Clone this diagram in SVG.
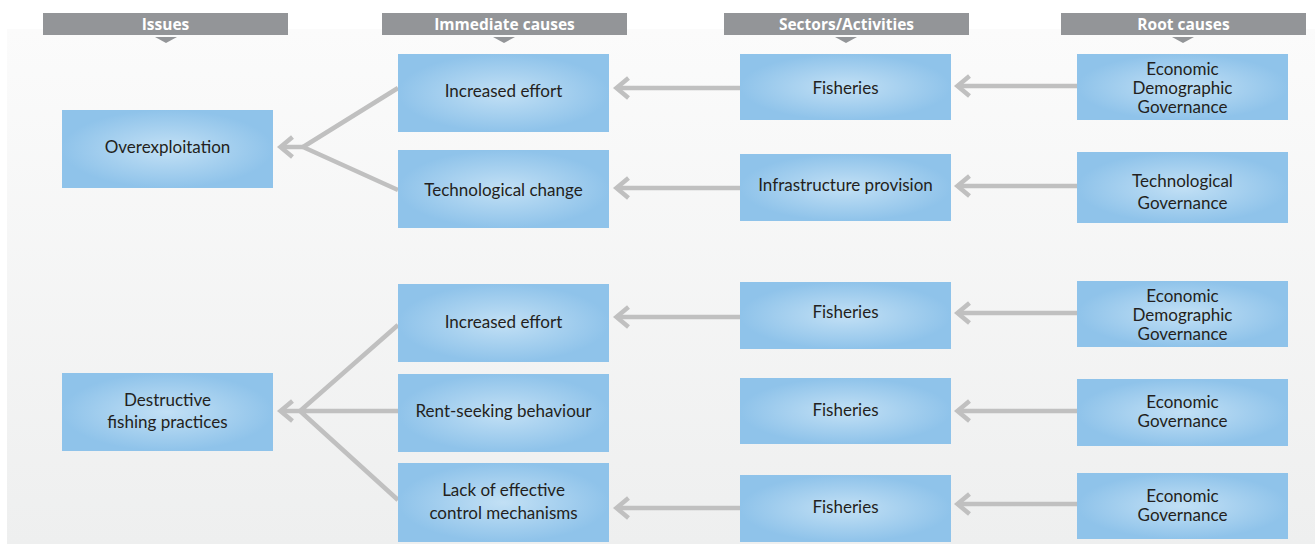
<svg xmlns="http://www.w3.org/2000/svg" width="1315" height="544" viewBox="0 0 1315 544">
<defs>
<linearGradient id="bg" x1="0" y1="0" x2="0" y2="1">
<stop offset="0" stop-color="#fbfbfb"/>
<stop offset="1" stop-color="#eeefef"/>
</linearGradient>
<radialGradient id="nodeFill" cx="0.5" cy="0.5" r="0.5">
<stop offset="0" stop-color="#c2e0f5"/>
<stop offset="1" stop-color="#8fc3ea"/>
</radialGradient>
<marker id="chev" markerUnits="userSpaceOnUse" viewBox="-18 -14 24 28" markerWidth="24" markerHeight="28" refX="0" refY="0" orient="auto">
<path d="M-12,-10 L0,0 L-12,10" fill="none" stroke="#c0c0c0" stroke-width="4.5"/>
</marker>
</defs>
<style>
.hdr{fill:#939598}
.hdrt{font-family:"Open Sans","Liberation Sans",sans-serif;font-weight:bold;font-size:15.5px;fill:#ffffff;text-anchor:middle}
.node rect{fill:url(#nodeFill)}
.node text{font-family:Lato,"Liberation Sans",sans-serif;font-size:17px;fill:#231f20;text-anchor:middle}
.conn{fill:none;stroke:#c0c0c0;stroke-width:4.5}
.arr{marker-end:url(#chev)}
</style>
<rect x="0" y="0" width="1315" height="544" fill="#ffffff"/>
<rect x="7" y="29" width="1308" height="515" fill="url(#bg)"/>

<g id="headers">
<rect class="hdr" x="43" y="13" width="245" height="22"/>
<polygon class="hdr" points="155,37 177,37 166,43"/>
<text class="hdrt" x="165.5" y="29.5">Issues</text>
<rect class="hdr" x="382" y="13" width="245" height="22"/>
<polygon class="hdr" points="493,37 515,37 504,43"/>
<text class="hdrt" x="504.5" y="29.5">Immediate causes</text>
<rect class="hdr" x="724" y="13" width="245" height="22"/>
<polygon class="hdr" points="835,37 857,37 846,43"/>
<text class="hdrt" x="846.5" y="29.5">Sectors/Activities</text>
<rect class="hdr" x="1061" y="13" width="245" height="22"/>
<polygon class="hdr" points="1172,37 1194,37 1183,43"/>
<text class="hdrt" x="1183.5" y="29.5">Root causes</text>
</g>

<g id="connectors">
<path class="conn" d="M398,88 L303,147 L398,190"/>
<path class="conn arr" d="M303,147 L280.5,147"/>
<path class="conn" d="M398,325 L300,411 L398,500 M398,411 L300,411"/>
<path class="conn arr" d="M300,411 L280.5,411"/>
<path class="conn arr" d="M740,88 L616.5,88"/>
<path class="conn arr" d="M740,188 L616.5,188"/>
<path class="conn arr" d="M740,317 L616.5,317"/>
<path class="conn arr" d="M740,508 L616.5,508"/>
<path class="conn arr" d="M1077,86 L957.5,86"/>
<path class="conn arr" d="M1077,186 L957.5,186"/>
<path class="conn arr" d="M1077,313 L957.5,313"/>
<path class="conn arr" d="M1077,411 L957.5,411"/>
<path class="conn arr" d="M1077,504 L957.5,504"/>
</g>

<g id="n-overexploitation" class="node"><rect x="62" y="110" width="211" height="78"/><text x="167.5" y="153">Overexploitation</text></g>
<g id="n-destructive" class="node"><rect x="62" y="373" width="211" height="78"/><text x="167.5" y="406">Destructive</text><text x="167.5" y="428">fishing practices</text></g>

<g id="n-effort1" class="node"><rect x="398" y="54" width="211" height="78"/><text x="503.5" y="97">Increased effort</text></g>
<g id="n-tech" class="node"><rect x="398" y="150" width="211" height="78"/><text x="503.5" y="196">Technological change</text></g>
<g id="n-effort2" class="node"><rect x="398" y="284" width="211" height="78"/><text x="503.5" y="328">Increased effort</text></g>
<g id="n-rent" class="node"><rect x="398" y="374" width="211" height="78"/><text x="503.5" y="417">Rent-seeking behaviour</text></g>
<g id="n-lack" class="node"><rect x="398" y="463" width="211" height="79"/><text x="503.5" y="496">Lack of effective</text><text x="503.5" y="519">control mechanisms</text></g>

<g id="n-fish1" class="node"><rect x="740" y="54" width="211" height="66"/><text x="845.5" y="94">Fisheries</text></g>
<g id="n-infra" class="node"><rect x="740" y="154" width="211" height="67"/><text x="845.5" y="191">Infrastructure provision</text></g>
<g id="n-fish2" class="node"><rect x="740" y="282" width="211" height="67"/><text x="845.5" y="318">Fisheries</text></g>
<g id="n-fish3" class="node"><rect x="740" y="378" width="211" height="66"/><text x="845.5" y="416">Fisheries</text></g>
<g id="n-fish4" class="node"><rect x="740" y="475" width="211" height="67"/><text x="845.5" y="513">Fisheries</text></g>

<g id="n-root1" class="node"><rect x="1077" y="54" width="211" height="66"/><text x="1182.5" y="75">Economic</text><text x="1182.5" y="94">Demographic</text><text x="1182.5" y="113">Governance</text></g>
<g id="n-root2" class="node"><rect x="1077" y="152" width="211" height="71"/><text x="1182.5" y="187">Technological</text><text x="1182.5" y="209">Governance</text></g>
<g id="n-root3" class="node"><rect x="1077" y="281" width="211" height="66"/><text x="1182.5" y="302">Economic</text><text x="1182.5" y="321">Demographic</text><text x="1182.5" y="340">Governance</text></g>
<g id="n-root4" class="node"><rect x="1077" y="379" width="211" height="67"/><text x="1182.5" y="408">Economic</text><text x="1182.5" y="427">Governance</text></g>
<g id="n-root5" class="node"><rect x="1077" y="473" width="211" height="66"/><text x="1182.5" y="502">Economic</text><text x="1182.5" y="521">Governance</text></g>
</svg>
